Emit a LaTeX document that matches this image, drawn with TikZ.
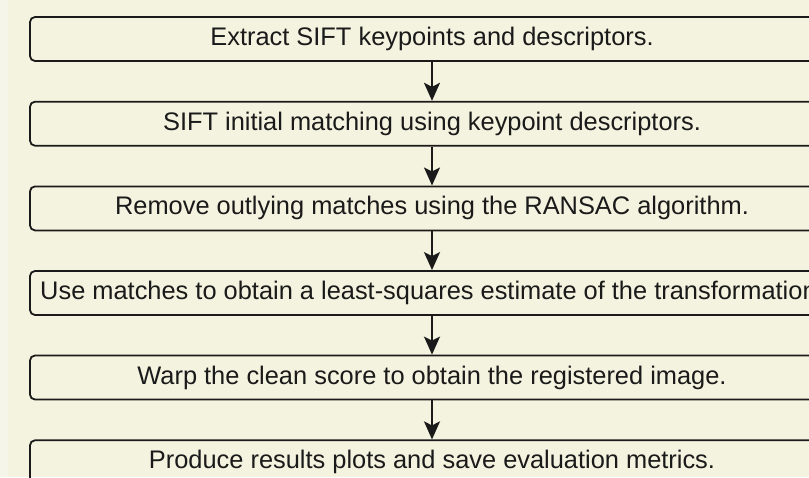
\documentclass[tikz,border=0pt]{standalone}
\usepackage{fontspec}
\setmainfont{Liberation Sans}
\usetikzlibrary{arrows.meta}
\definecolor{bgcream}{HTML}{F4F3DF}
\definecolor{bgstrip}{HTML}{F5F5E9}
\definecolor{boxline}{HTML}{1A1A1A}
\begin{document}
\begin{tikzpicture}[x=1pt,y=1pt,
  stepbox/.style={draw=boxline, line width=1.8pt, rounded corners=5pt,
    minimum width=804pt, minimum height=44pt, inner sep=0pt,
    font=\fontsize{25.4}{29}\selectfont, text=boxline},
  flow/.style={draw=boxline, line width=1.9pt,
    -{Stealth[length=18pt,width=16pt,inset=4pt]}}]
\useasboundingbox (0,0) rectangle (809,-477);
\clip (0,0) rectangle (809,-477);
\fill[bgcream] (0,0) rectangle (809,-477);
\fill[bgstrip] (0,0) rectangle (8,-477);
\node[stepbox] (b1) at (432,-39) {Extract SIFT keypoints and descriptors.};
\node[stepbox] (b2) at (432,-123.7) {SIFT initial matching using keypoint descriptors.};
\node[stepbox] (b3) at (432,-208.4) {Remove outlying matches using the RANSAC algorithm.};
\node[stepbox] (b4) at (432,-293) {Use matches to obtain a least-squares estimate of the transformation.};
\node[stepbox] (b5) at (432,-377.5) {Warp the clean score to obtain the registered image.};
\node[stepbox] (b6) at (432,-462.3) {Produce results plots and save evaluation metrics.};
\draw[flow] (b1.south) -- (b2.north);
\draw[flow] (b2.south) -- (b3.north);
\draw[flow] (b3.south) -- (b4.north);
\draw[flow] (b4.south) -- (b5.north);
\draw[flow] (b5.south) -- (b6.north);
\end{tikzpicture}
\end{document}
